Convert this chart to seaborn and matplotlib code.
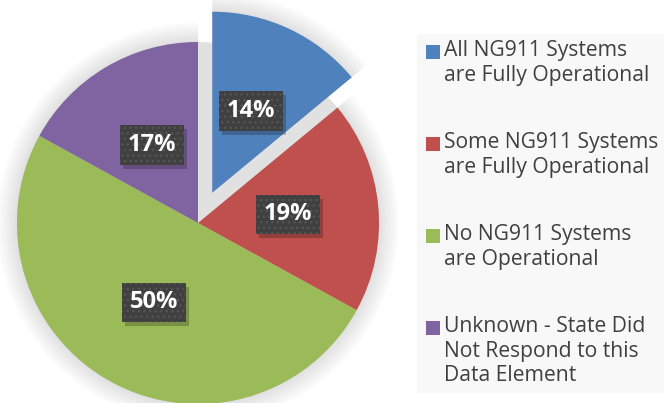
import matplotlib
matplotlib.use("Agg")
import matplotlib.pyplot as plt
from matplotlib.patches import Rectangle
import seaborn as sns

# data
categories = [
    "All NG911 Systems\nare Fully Operational",
    "Some NG911 Systems\nare Fully Operational",
    "No NG911 Systems\nare Operational",
    "Unknown - State Did\nNot Respond to this\nData Element",
]
shares = [14, 19, 50, 17]
colors = ["#4f81bd", "#c0504d", "#9bbb59", "#8064a2"]

sns.set_style("white")
plt.rcParams["font.family"] = ["Open Sans", "DejaVu Sans"]
plt.rcParams["hatch.linewidth"] = 1.0

fig = plt.figure(figsize=(6.64, 4.03), dpi=100)
ax = fig.add_axes([0, 0, 1, 1])

# pie geometry in pixel units (axes spans the whole figure)
cx, cy, r = 198, 180, 181
explode = [33.5, 0, 0, 0]

# grey base under the exploded gap + soft glow shadow
ax.pie(shares, colors=["#e1e1e1"] * 4, startangle=90, counterclock=False,
       center=(cx, cy), radius=r, wedgeprops=dict(linewidth=0))
for k in range(1, 11):
    ax.pie(shares, colors=["black"] * 4, explode=explode, startangle=90,
           counterclock=False, center=(cx, cy), radius=r + 2 * k,
           wedgeprops=dict(linewidth=0, alpha=0.012))

wedges, texts, autotexts = ax.pie(
    shares, colors=colors, explode=explode, startangle=90, counterclock=False,
    center=(cx, cy), radius=r, autopct="%.0f%%", pctdistance=0.5,
    wedgeprops=dict(linewidth=0),
    textprops=dict(color="white", fontsize=17, fontweight="bold"))

for t in autotexts:
    t.set_zorder(6)
    t.set_bbox(dict(boxstyle="square,pad=0.33", facecolor="#404040",
                    edgecolor="#555555", hatch="...", linewidth=0))

ax.set_xlim(0, 664)
ax.set_ylim(0, 403)
ax.axis("off")

# drop shadow behind each label box
fig.canvas.draw()
inv = ax.transData.inverted()
for t in autotexts:
    bb = t.get_bbox_patch().get_window_extent().transformed(inv)
    ax.add_patch(Rectangle((bb.x0 + 3, bb.y0 - 4), bb.width, bb.height,
                           facecolor="black", alpha=0.22, linewidth=0, zorder=4))

# legend panel on the right
ax.add_patch(Rectangle((417, 10), 247, 359, facecolor="#f8f8f8", edgecolor="none", zorder=0))
for i, (lab, col) in enumerate(zip(categories, colors)):
    top = 403 - 45 - 92 * i
    ax.add_patch(Rectangle((426, top - 14), 14, 14, facecolor=col, edgecolor="none"))
    ax.text(444, top + 5, lab, fontsize=15.2, color="#404040", va="top", ha="left",
            linespacing=1.23)

fig.savefig("out.png", dpi=100)
